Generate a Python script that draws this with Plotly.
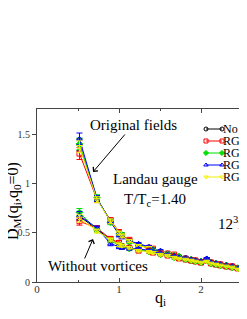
import plotly.graph_objects as go

# ---------------- data ----------------
q_values = [0.518, 0.732, 0.897, 1.000, 1.035, 1.126, 1.239, 1.366, 1.414, 1.506,
            1.593, 1.673, 1.732, 1.812, 1.880, 1.932, 2.000, 2.070, 2.121, 2.182,
            2.236, 2.309, 2.380, 2.449, 2.516, 2.580]

series_names = ["No RGT", "RGT1", "RGT2", "RGT3", "RGT4"]

orig_no_rgt = [1.40, 0.85, 0.62, 0.50, 0.48, 0.42, 0.38, 0.35, 0.33, 0.31, 0.29, 0.27, 0.26,
               0.24, 0.23, 0.22, 0.21, 0.23, 0.20, 0.19, 0.18, 0.17, 0.16, 0.14, 0.13, 0.12]
orig_rgt1 = [1.31, 0.84, 0.63, 0.51, 0.47, 0.43, 0.37, 0.35, 0.34, 0.30, 0.29, 0.28, 0.25,
             0.24, 0.22, 0.22, 0.20, 0.22, 0.20, 0.18, 0.18, 0.16, 0.16, 0.14, 0.12, 0.12]
orig_rgt2 = [1.41, 0.86, 0.61, 0.49, 0.48, 0.41, 0.38, 0.34, 0.33, 0.31, 0.28, 0.27, 0.26,
             0.23, 0.23, 0.21, 0.21, 0.23, 0.19, 0.19, 0.17, 0.17, 0.15, 0.14, 0.13, 0.11]
orig_rgt3 = [1.46, 0.85, 0.62, 0.48, 0.46, 0.42, 0.39, 0.36, 0.33, 0.32, 0.29, 0.27, 0.26,
             0.25, 0.23, 0.22, 0.21, 0.24, 0.20, 0.19, 0.18, 0.17, 0.16, 0.15, 0.13, 0.12]
orig_rgt4 = [1.38, 0.84, 0.62, 0.50, 0.47, 0.42, 0.37, 0.35, 0.32, 0.30, 0.29, 0.26, 0.25,
             0.24, 0.22, 0.21, 0.20, 0.22, 0.19, 0.18, 0.17, 0.16, 0.15, 0.13, 0.12, 0.11]

novort_no_rgt = [0.67, 0.54, 0.43, 0.38, 0.37, 0.35, 0.33, 0.32, 0.31, 0.29, 0.28, 0.26, 0.25,
                 0.235, 0.225, 0.215, 0.205, 0.225, 0.195, 0.185, 0.175, 0.165, 0.155, 0.14, 0.13, 0.12]
novort_rgt1 = [0.62, 0.55, 0.44, 0.40, 0.36, 0.35, 0.32, 0.32, 0.30, 0.29, 0.27, 0.26, 0.24,
               0.23, 0.22, 0.21, 0.20, 0.22, 0.19, 0.18, 0.17, 0.16, 0.15, 0.14, 0.12, 0.12]
novort_rgt2 = [0.71, 0.53, 0.42, 0.37, 0.36, 0.34, 0.33, 0.31, 0.31, 0.28, 0.28, 0.25, 0.25,
               0.23, 0.22, 0.21, 0.20, 0.22, 0.19, 0.18, 0.17, 0.16, 0.15, 0.14, 0.13, 0.11]
novort_rgt3 = [0.68, 0.55, 0.39, 0.36, 0.35, 0.34, 0.34, 0.32, 0.31, 0.29, 0.28, 0.26, 0.25,
               0.24, 0.23, 0.22, 0.21, 0.24, 0.20, 0.19, 0.18, 0.17, 0.16, 0.14, 0.13, 0.12]
novort_rgt4 = [0.65, 0.52, 0.43, 0.38, 0.37, 0.35, 0.32, 0.31, 0.30, 0.28, 0.27, 0.25, 0.24,
               0.23, 0.22, 0.21, 0.20, 0.21, 0.19, 0.18, 0.17, 0.16, 0.15, 0.13, 0.12, 0.11]

err_orig = [0.06, 0.03, 0.025, 0.02, 0.02, 0.015, 0.012, 0.01, 0.01, 0.01, 0.008, 0.008, 0.008,
            0.008, 0.007, 0.007, 0.007, 0.008, 0.006, 0.006, 0.006, 0.006, 0.005, 0.005, 0.005, 0.005]
err_novort = [0.04, 0.02, 0.02, 0.02, 0.015, 0.012, 0.01, 0.01, 0.01, 0.008, 0.008, 0.008, 0.007,
              0.007, 0.007, 0.006, 0.006, 0.008, 0.006, 0.006, 0.005, 0.005, 0.005, 0.005, 0.005, 0.005]

orig_series = [orig_no_rgt, orig_rgt1, orig_rgt2, orig_rgt3, orig_rgt4]
novort_series = [novort_no_rgt, novort_rgt1, novort_rgt2, novort_rgt3, novort_rgt4]

x_tick_vals = [0, 1, 2]
x_tick_text = ["0", "1", "2"]
y_tick_vals = [0, 0.5, 1, 1.5]
y_tick_text = ["0", "0.5", "1", "1.5"]

# ---------------- styles ----------------
colors = ["#000000", "#ff0000", "#00e000", "#0000ff", "#f0f000"]
symbols = ["circle-open", "square-open", "diamond", "triangle-up-open", "triangle-down-open"]
FONT = '"Liberation Serif", "Times New Roman", Times, serif'

BODY = 8                      # default page margin around the plot div
W, H = 247 - BODY, 319 - BODY
L, T, B = 37 - BODY, 109 - BODY, 37
X_MAX = 2.561
Y_MAX = 1.765


def fx(px):
    """page pixel x -> paper fraction"""
    return (px - BODY - L) / (W - L)


def fy(py):
    """page pixel y -> paper fraction"""
    return (H - B - (py - BODY)) / (H - B - T)


fig = go.Figure()

for vals_list, errs in ((orig_series, err_orig), (novort_series, err_novort)):
    for i, vals in enumerate(vals_list):
        fig.add_trace(go.Scatter(
            x=q_values, y=vals, mode="lines+markers",
            line=dict(color=colors[i], width=1),
            marker=dict(symbol=symbols[i], size=5, color=colors[i],
                        line=dict(color=colors[i], width=1)),
            error_y=dict(type="data", array=errs, color=colors[i], thickness=1, width=3),
            showlegend=False, hoverinfo="skip",
        ))

# compact legend drawn on an overlay axis in paper units
legend_rows_px = [129, 141, 153, 165, 177]
key_x0, key_x1, text_x = 206, 222, 222
for i, name in enumerate(series_names):
    fig.add_trace(go.Scatter(
        x=[fx(key_x0), fx(key_x1)], y=[fy(legend_rows_px[i])] * 2,
        xaxis="x2", yaxis="y2", mode="lines+markers",
        line=dict(color=colors[i], width=1),
        marker=dict(symbol=symbols[i], size=4, color=colors[i],
                    line=dict(color=colors[i], width=1)),
        showlegend=False, hoverinfo="skip", cliponaxis=False,
    ))

annotations = []
for i, name in enumerate(series_names):
    annotations.append(dict(xref="paper", yref="paper", x=fx(text_x), y=fy(legend_rows_px[i]),
                            xanchor="left", yanchor="middle", text=name, showarrow=False,
                            borderpad=0, font=dict(family=FONT, size=12, color="black")))

txt_font = dict(family=FONT, size=15, color="black")
annotations += [
    dict(x=(93 - 37) / 82.0, y=(282 - 172) / 98.0, xref="x", yref="y",
         text="Original fields", showarrow=True, ax=40, ay=-47,
         arrowhead=4, arrowsize=1.2, arrowwidth=1, arrowcolor="black", font=txt_font),
    dict(x=(93 - 37) / 82.0, y=(282 - 239) / 98.0, xref="x", yref="y",
         text="", showarrow=True, ax=-9, ay=21,
         arrowhead=4, arrowsize=1.2, arrowwidth=1, arrowcolor="black"),
    dict(xref="paper", yref="paper", x=fx(98), y=fy(266), text="Without vortices",
         showarrow=False, xanchor="center", yanchor="middle", font=txt_font),
    dict(xref="paper", yref="paper", x=fx(155), y=fy(179), text="Landau gauge",
         showarrow=False, xanchor="center", yanchor="middle", font=txt_font),
    dict(xref="paper", yref="paper", x=fx(155), y=fy(200), text="T/T<sub>c</sub>=1.40",
         showarrow=False, xanchor="center", yanchor="middle", font=txt_font),
    dict(xref="paper", yref="paper", x=fx(217), y=fy(223), text="12<sup>3</sup>x4",
         showarrow=False, xanchor="left", yanchor="middle", borderpad=0, font=txt_font),
    dict(xref="paper", yref="paper", x=fx(13), y=fy(201),
         text="D<sub>M</sub>(q<sub>i</sub>,q<sub>0</sub>=0)", textangle=-90,
         showarrow=False, xanchor="center", yanchor="middle",
         font=dict(family=FONT, size=16, color="black")),
    dict(xref="x", yref="paper", x=1.5, y=fy(298), text="q<sub>i</sub>",
         showarrow=False, xanchor="center", yanchor="middle",
         font=dict(family=FONT, size=16, color="black")),
]

axis_color = "#444444"
fig.update_layout(
    width=W, height=H,
    margin=dict(l=L, r=0, t=T, b=B, pad=0),
    paper_bgcolor="white", plot_bgcolor="white",
    font=dict(family=FONT, size=11, color="#333333"),
    showlegend=False,
    xaxis=dict(range=[0, X_MAX], tickvals=x_tick_vals, ticktext=x_tick_text,
               ticks="inside", ticklen=4, tickwidth=1, tickcolor=axis_color,
               minor=dict(dtick=0.5, ticks="inside", ticklen=2, tickcolor=axis_color),
               showline=True, linecolor=axis_color, linewidth=1, mirror="ticks",
               showgrid=False, zeroline=False, ticklabelstandoff=-3,
               tickfont=dict(family=FONT, size=11, color="#333333")),
    yaxis=dict(range=[0, Y_MAX], tickvals=y_tick_vals, ticktext=y_tick_text,
               ticks="outside", ticklen=4, tickwidth=1, tickcolor=axis_color,
               showline=True, linecolor=axis_color, linewidth=1, mirror=False,
               showgrid=False, zeroline=False,
               tickfont=dict(family=FONT, size=10, color="#333333")),
    xaxis2=dict(range=[0, 1], domain=[0, 1], overlaying="x", visible=False, fixedrange=True),
    yaxis2=dict(range=[0, 1], domain=[0, 1], overlaying="y", visible=False, fixedrange=True),
    annotations=annotations,
)

fig.write_html("out.html")
